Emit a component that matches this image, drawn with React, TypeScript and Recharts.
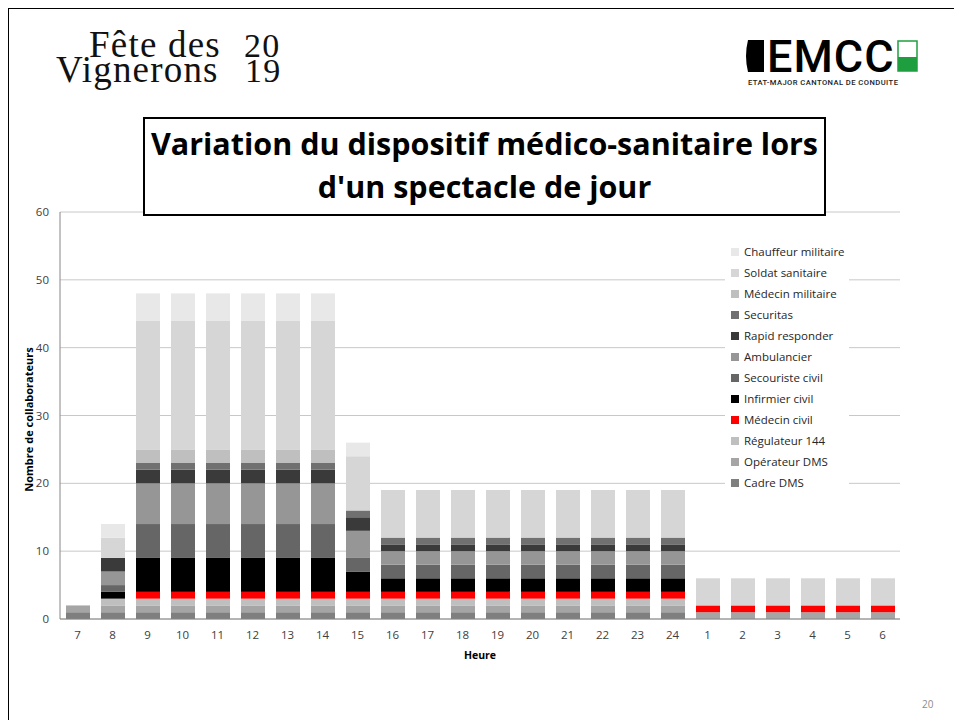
import React from 'react';
import { BarChart, Bar, XAxis, YAxis, CartesianGrid, Legend } from 'recharts';

const hours = ['7', '8', '9', '10', '11', '12', '13', '14', '15', '16', '17', '18', '19', '20', '21', '22', '23', '24', '1', '2', '3', '4', '5', '6'];

const cadreDMS = [1, 1, 1, 1, 1, 1, 1, 1, 1, 1, 1, 1, 1, 1, 1, 1, 1, 1, 0, 0, 0, 0, 0, 0];
const operateurDMS = [1, 1, 1, 1, 1, 1, 1, 1, 1, 1, 1, 1, 1, 1, 1, 1, 1, 1, 1, 1, 1, 1, 1, 1];
const regulateur144 = [0, 1, 1, 1, 1, 1, 1, 1, 1, 1, 1, 1, 1, 1, 1, 1, 1, 1, 0, 0, 0, 0, 0, 0];
const medecinCivil = [0, 0, 1, 1, 1, 1, 1, 1, 1, 1, 1, 1, 1, 1, 1, 1, 1, 1, 1, 1, 1, 1, 1, 1];
const infirmierCivil = [0, 1, 5, 5, 5, 5, 5, 5, 3, 2, 2, 2, 2, 2, 2, 2, 2, 2, 0, 0, 0, 0, 0, 0];
const secouristeCivil = [0, 1, 5, 5, 5, 5, 5, 5, 2, 2, 2, 2, 2, 2, 2, 2, 2, 2, 0, 0, 0, 0, 0, 0];
const ambulancier = [0, 2, 6, 6, 6, 6, 6, 6, 4, 2, 2, 2, 2, 2, 2, 2, 2, 2, 0, 0, 0, 0, 0, 0];
const rapidResponder = [0, 2, 2, 2, 2, 2, 2, 2, 2, 1, 1, 1, 1, 1, 1, 1, 1, 1, 0, 0, 0, 0, 0, 0];
const securitas = [0, 0, 1, 1, 1, 1, 1, 1, 1, 1, 1, 1, 1, 1, 1, 1, 1, 1, 0, 0, 0, 0, 0, 0];
const medecinMilitaire = [0, 0, 2, 2, 2, 2, 2, 2, 0, 0, 0, 0, 0, 0, 0, 0, 0, 0, 0, 0, 0, 0, 0, 0];
const soldatSanitaire = [0, 3, 19, 19, 19, 19, 19, 19, 8, 7, 7, 7, 7, 7, 7, 7, 7, 7, 4, 4, 4, 4, 4, 4];
const chauffeurMilitaire = [0, 2, 4, 4, 4, 4, 4, 4, 2, 0, 0, 0, 0, 0, 0, 0, 0, 0, 0, 0, 0, 0, 0, 0];

const yTicks = [0, 10, 20, 30, 40, 50, 60];

// bottom of the stack first
const series = [
  { key: 'cadre', name: 'Cadre DMS', values: cadreDMS, color: '#7f7f7f' },
  { key: 'operateur', name: 'Opérateur DMS', values: operateurDMS, color: '#a5a5a5' },
  { key: 'regulateur', name: 'Régulateur 144', values: regulateur144, color: '#bfbfbf' },
  { key: 'medecinCivil', name: 'Médecin civil', values: medecinCivil, color: '#ff0000' },
  { key: 'infirmier', name: 'Infirmier civil', values: infirmierCivil, color: '#000000' },
  { key: 'secouriste', name: 'Secouriste civil', values: secouristeCivil, color: '#666666' },
  { key: 'ambulancier', name: 'Ambulancier', values: ambulancier, color: '#969696' },
  { key: 'rapid', name: 'Rapid responder', values: rapidResponder, color: '#3a3a3a' },
  { key: 'securitas', name: 'Securitas', values: securitas, color: '#707070' },
  { key: 'medecinMil', name: 'Médecin militaire', values: medecinMilitaire, color: '#bfbfbf' },
  { key: 'soldat', name: 'Soldat sanitaire', values: soldatSanitaire, color: '#d6d6d6' },
  { key: 'chauffeur', name: 'Chauffeur militaire', values: chauffeurMilitaire, color: '#e8e8e8' },
];

const data = hours.map((h, i) => {
  const row: { [k: string]: string | number } = { heure: h };
  series.forEach(s => { row[s.key] = s.values[i]; });
  return row;
});

const FONT = '"Open Sans", "Noto Sans", sans-serif';

const LegendList = () => (
  <div style={{ background: '#fff', padding: '1px 4px 4px 6px', fontFamily: FONT, fontSize: 11.5, color: '#262626' }}>
    {[...series].reverse().map(s => (
      <div key={s.key} style={{ display: 'flex', alignItems: 'center', height: 21 }}>
        <span style={{ display: 'inline-block', width: 8, height: 8, background: s.color, marginRight: 5 }} />
        {s.name}
      </div>
    ))}
  </div>
);

const YLabel = (props: any) => {
  const { x, y, height } = props.viewBox;
  const cx = x + 8;
  const cy = y + height / 2 + 4;
  return (
    <text x={cx} y={cy} transform={`rotate(-90 ${cx} ${cy})`} textAnchor="middle" dominantBaseline="central"
      style={{ fontFamily: FONT, fontSize: 11, fontWeight: 700, fill: '#000' }}>
      Nombre de collaborateurs
    </text>
  );
};

const serif = '"Liberation Serif", serif';

const FeteLogo = () => (
  <div style={{ position: 'absolute', left: 0, top: 0, fontFamily: serif, color: '#111', letterSpacing: 1.2 }}>
    <div style={{ position: 'absolute', left: 89, top: 33, height: 24, lineHeight: '24px', fontSize: 37, whiteSpace: 'nowrap' }}>Fête des</div>
    <div style={{ position: 'absolute', left: 244, top: 35, height: 22, lineHeight: '22px', fontSize: 34, whiteSpace: 'nowrap' }}>20</div>
    <div style={{ position: 'absolute', left: 56, top: 58, height: 24, lineHeight: '24px', fontSize: 37, whiteSpace: 'nowrap' }}>Vignerons</div>
    <div style={{ position: 'absolute', left: 245, top: 60, height: 22, lineHeight: '22px', fontSize: 34, whiteSpace: 'nowrap' }}>19</div>
  </div>
);

const EmccLogo = () => (
  <div style={{ position: 'absolute', left: 744, top: 36 }}>
    <svg width={180} height={56} style={{ position: 'absolute', left: 0, top: 0 }}>
      <path d="M4 4 L20 4 L20 36 L4 36 Q0 20 4 4 Z" fill="#000" />
      <rect x={154} y={5} width={19} height={30} fill="#fff" stroke="#1e9e3e" strokeWidth={1.5} />
      <rect x={154} y={21} width={19} height={14} fill="#1e9e3e" />
    </svg>
    <div style={{ position: 'absolute', left: 23, top: 4, height: 34, lineHeight: '34px', fontFamily: 'Roboto, sans-serif', fontWeight: 500, fontSize: 45, letterSpacing: 1, color: '#000', whiteSpace: 'nowrap' }}>EMCC</div>
    <div style={{ position: 'absolute', left: 4, top: 42, height: 9, lineHeight: '9px', fontFamily: 'Roboto, sans-serif', fontWeight: 500, fontSize: 7.6, letterSpacing: 0.45, color: '#222', whiteSpace: 'nowrap' }}>ETAT-MAJOR CANTONAL DE CONDUITE</div>
  </div>
);

export default function App() {
  return (
    <div style={{ position: 'absolute', left: 0, top: 0, width: 954, height: 720, background: '#fff', overflow: 'hidden' }}>
      <div style={{ position: 'absolute', left: 8, top: 8, width: 960, height: 720, borderLeft: '1.5px solid #000', borderTop: '1.5px solid #000' }} />
      <div style={{ position: 'absolute', left: 0, top: 0 }}>
        <BarChart width={954} height={720} data={data} margin={{ top: 212, right: 54, bottom: 57, left: 20 }} barSize={24}>
          <CartesianGrid vertical={false} stroke="#c8c8c8" />
          <XAxis dataKey="heure" height={44} axisLine={{ stroke: '#868686' }} tickLine={false} tickMargin={6}
            tick={{ fontFamily: FONT, fontSize: 11.5, fill: '#404040' }}
            label={{ value: 'Heure', position: 'insideBottom', offset: 4, style: { fontFamily: FONT, fontSize: 10.5, fontWeight: 700, fill: '#000' } }} />
          <YAxis width={40} domain={[0, 60]} ticks={yTicks} interval={0} axisLine={{ stroke: '#868686' }} tickLine={false}
            tickMargin={5} tick={{ fontFamily: FONT, fontSize: 11.5, fill: '#404040' }} label={<YLabel />} />
          <Legend layout="vertical" verticalAlign="middle" align="center"
            wrapperStyle={{ left: 725, top: 240, width: 'auto' }} content={() => <LegendList />} />
          {series.map(s => (
            <Bar key={s.key} dataKey={s.key} name={s.name} stackId="a" fill={s.color} isAnimationActive={false} />
          ))}
        </BarChart>
      </div>
      <div style={{ position: 'absolute', left: 143, top: 117, width: 679, height: 92, border: '2px solid #000', background: '#fff',
        fontFamily: FONT, fontWeight: 700, fontSize: 30.5, lineHeight: '43px', textAlign: 'center', color: '#000', paddingTop: 3, whiteSpace: 'nowrap' }}>
        Variation du dispositif médico-sanitaire lors<br />d'un spectacle de jour
      </div>
      <FeteLogo />
      <EmccLogo />
      <div style={{ position: 'absolute', left: 922, top: 697, fontFamily: FONT, fontSize: 10, color: '#8c8c8c' }}>20</div>
    </div>
  );
}
